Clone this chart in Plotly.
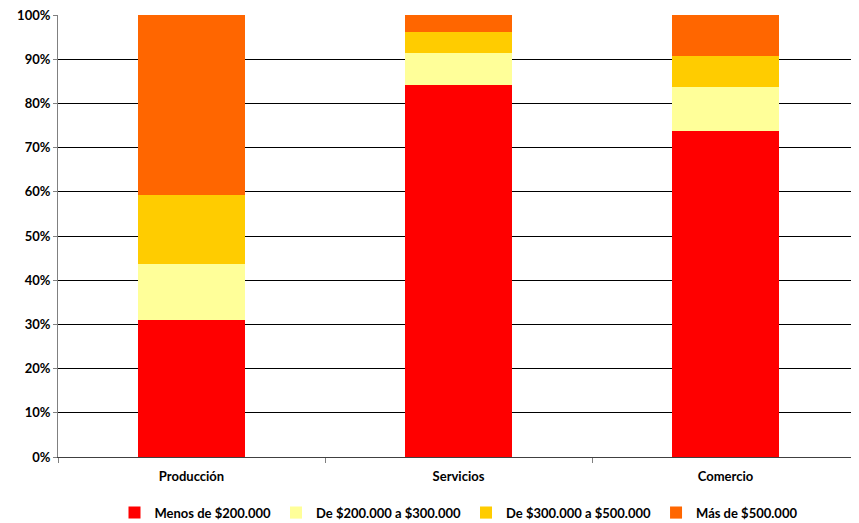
import plotly.graph_objects as go

categories = ["Producción", "Servicios", "Comercio"]
series_names = ["Menos de $200.000", "De $200.000 a $300.000", "De $300.000 a $500.000", "Más de $500.000"]
menos_200 = [31.0, 84.2, 73.8]
de_200_300 = [12.7, 7.2, 9.9]
de_300_500 = [15.6, 4.8, 7.0]
mas_500 = [40.7, 3.8, 9.3]
colors = ["#FF0000", "#FFFF99", "#FFCC00", "#FF6600"]
y_ticks = [0, 10, 20, 30, 40, 50, 60, 70, 80, 90, 100]
y_tick_labels = [f"<b>{v}%</b>" for v in y_ticks]

fig = go.Figure()
for name, vals, col in zip(series_names, [menos_200, de_200_300, de_300_500, mas_500], colors):
    fig.add_trace(go.Bar(x=categories, y=vals, name=f"<b>{name}</b>",
                         marker=dict(color=col, line=dict(width=0)), width=0.4))

fnt = dict(family="Lato", size=13, color="#000000")
fig.update_layout(
    barmode="stack",
    width=851, height=515,
    margin=dict(l=50, r=0, t=7, b=66, autoexpand=False),
    plot_bgcolor="white", paper_bgcolor="white",
    font=fnt,
    showlegend=True,
    legend=dict(orientation="h", x=0.5, xanchor="center", y=-0.092, yanchor="top",
                font=fnt, itemwidth=30, traceorder="normal"),
)
fig.update_xaxes(showline=True, linecolor="#404040", linewidth=1, ticks="outside", tickson="boundaries",
                 ticklen=5, tickcolor="#808080", showgrid=False,
                 tickvals=categories, ticktext=[f"<b>{c}</b>" for c in categories],
                 tickfont=fnt, ticklabelstandoff=7, automargin=False)
fig.update_yaxes(range=[0, 100], tickvals=y_ticks, ticktext=y_tick_labels, showgrid=True, gridcolor="#000000",
                 gridwidth=1, showline=True, linecolor="#808080", linewidth=1, ticks="outside", ticklen=4,
                 tickcolor="#808080", tickfont=fnt, zeroline=False, automargin=False,
                 ticklabeloverflow="allow")
fig.write_html("out.html")
